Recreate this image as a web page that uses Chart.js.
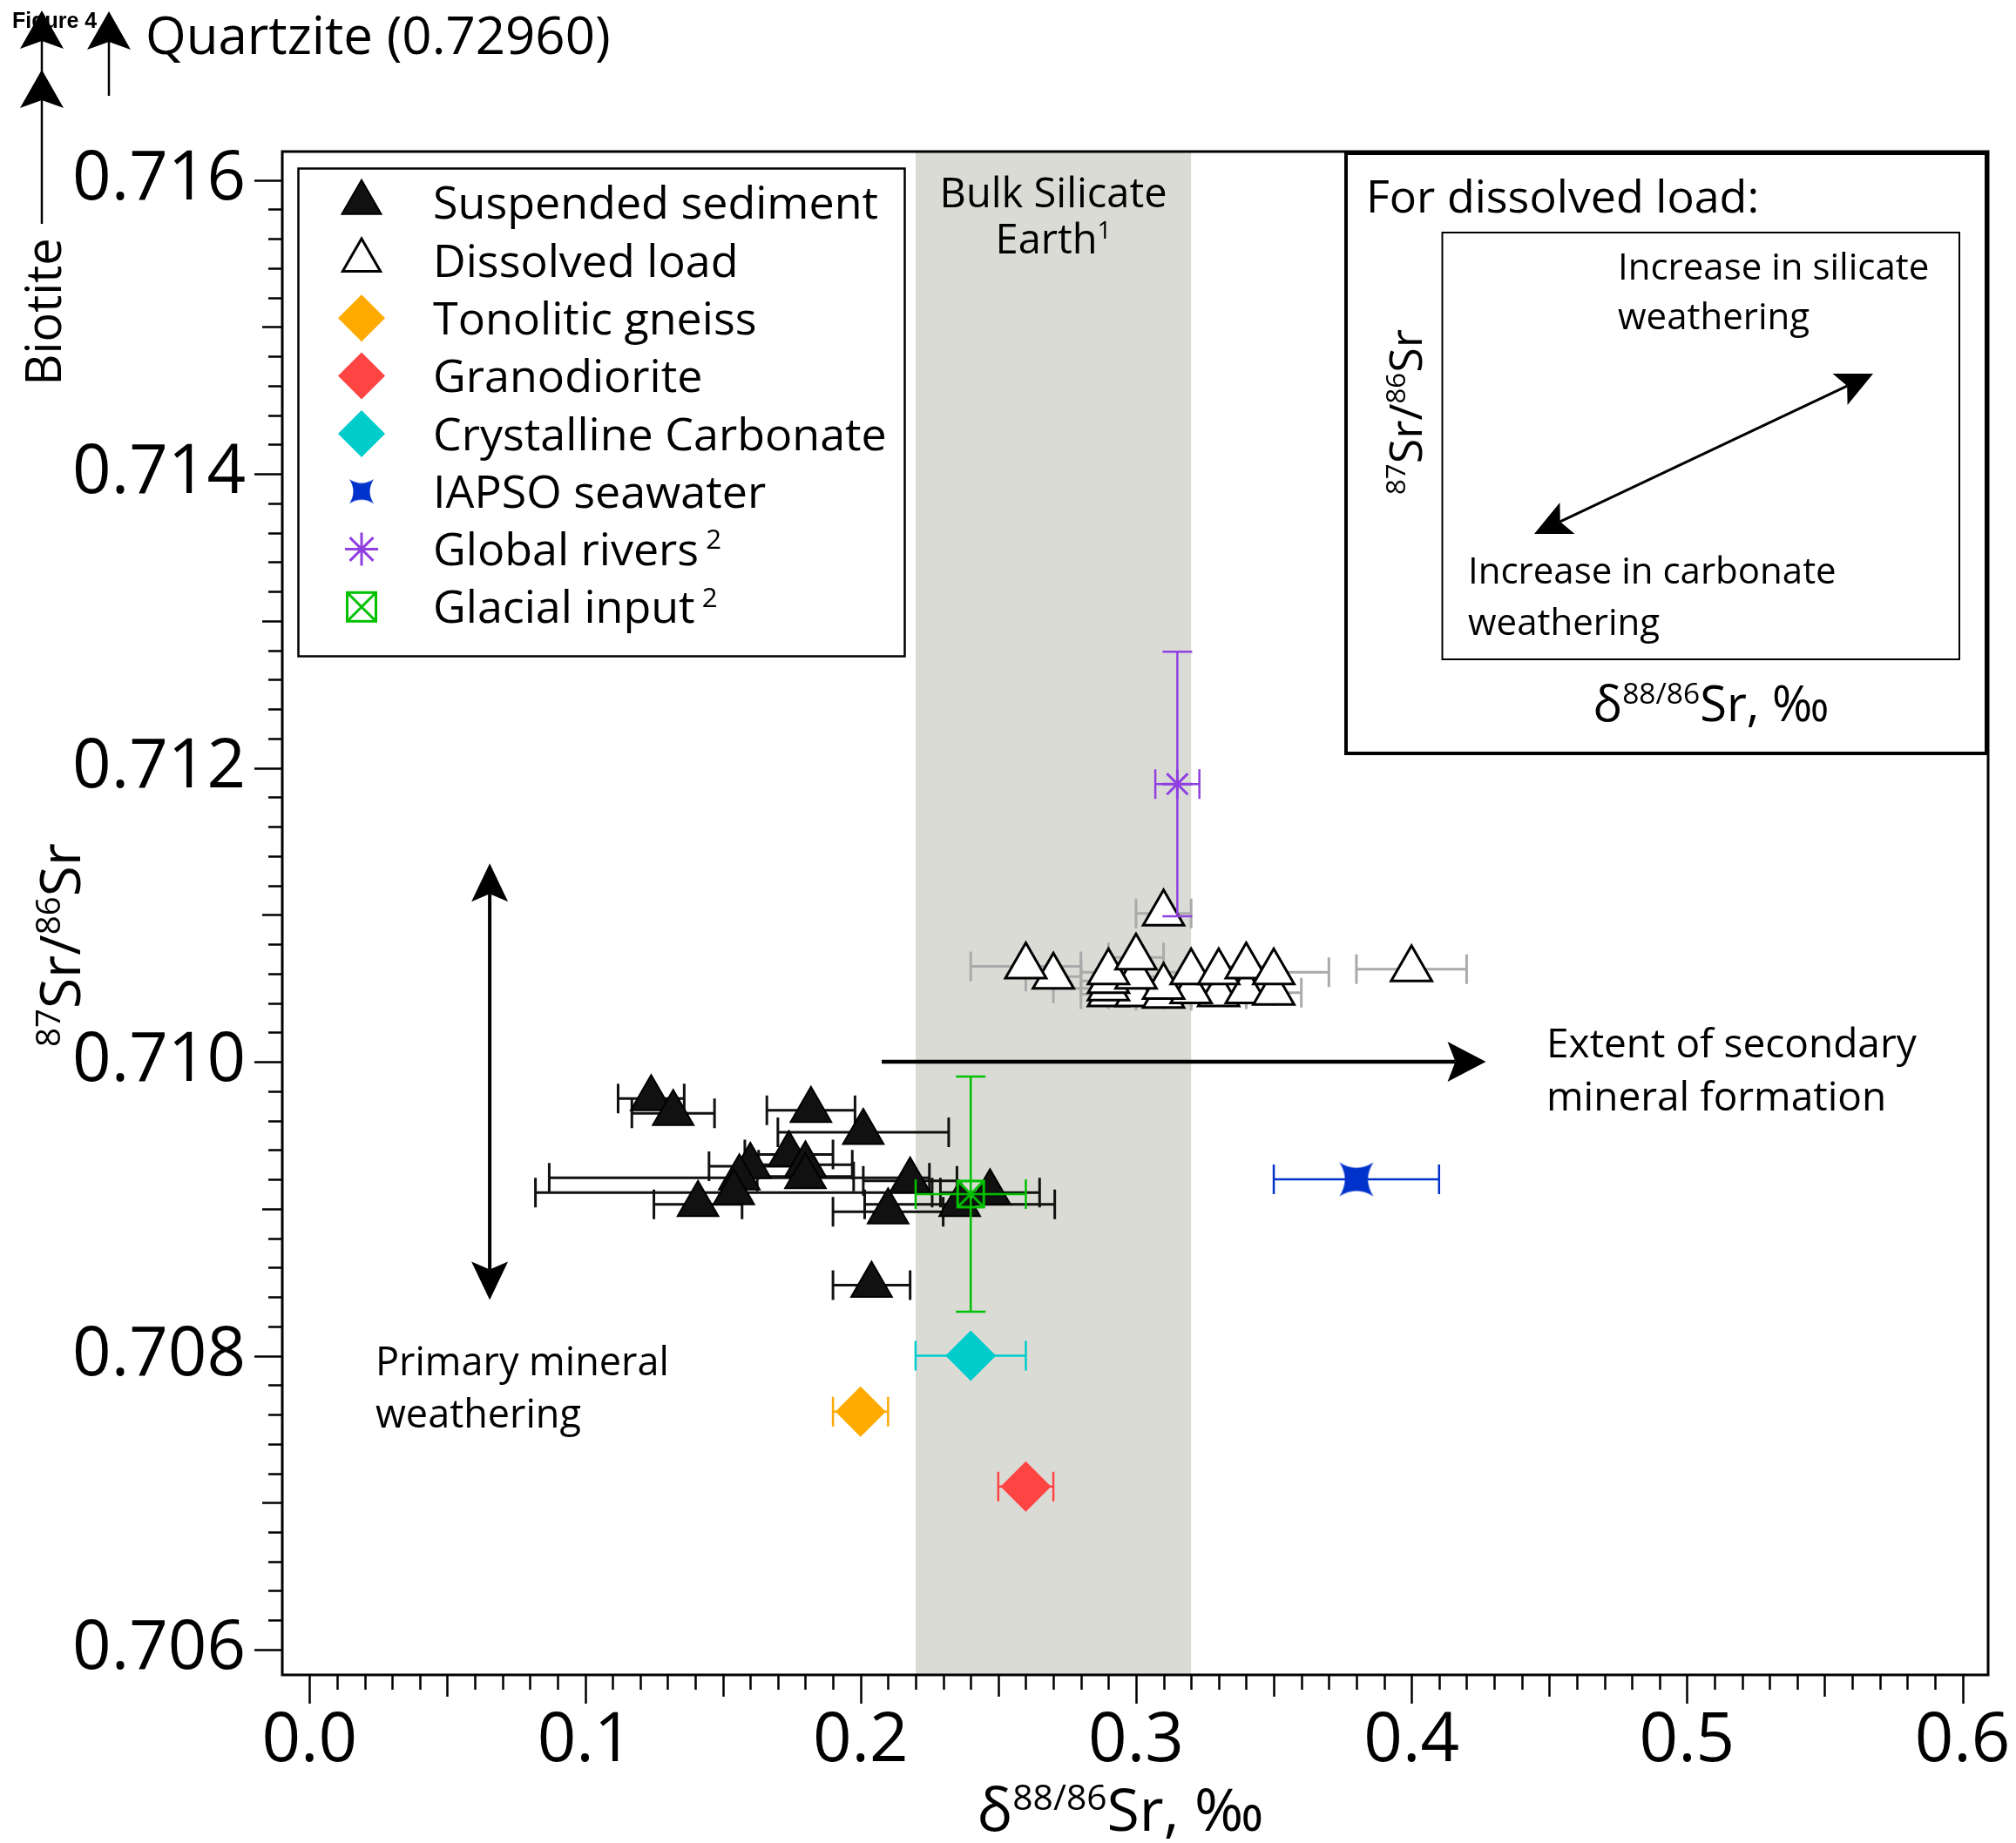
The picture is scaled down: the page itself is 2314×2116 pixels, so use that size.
<!DOCTYPE html>
<html>
<head>
<meta charset="utf-8">
<title>Sr isotopes</title>
<script src="https://cdn.jsdelivr.net/npm/chart.js@4.4.1/dist/chart.umd.min.js"></script>
<style>
  html, body { margin: 0; padding: 0; background: #fff; }
  #myChart { display: block; }
</style>
</head>
<body>
<canvas id="myChart" width="2314" height="2116"></canvas>
<script>
// values: x = d88/86Sr (permil), y = 87Sr/86Sr

// suspended sediment (filled triangles)
var suspX    = [0.124, 0.132, 0.182, 0.201, 0.174, 0.180, 0.180, 0.160, 0.156, 0.154, 0.141, 0.218, 0.210, 0.236, 0.247, 0.204];
var suspY    = [0.70975, 0.70965, 0.70967, 0.70952, 0.70937, 0.70930, 0.70922, 0.70929, 0.70921, 0.70911, 0.70903, 0.70919, 0.70898, 0.70903, 0.70911, 0.70848];
var suspXErr = [0.012, 0.015, 0.016, 0.031, 0.016, 0.017, 0.0175, 0.015, 0.069, 0.072, 0.016, 0.017, 0.020, 0.0345, 0.018, 0.014];

// dissolved load (open triangles), lower row first
var dissX    = [0.290, 0.300, 0.310, 0.330, 0.340, 0.350, 0.320, 0.290, 0.290, 0.310, 0.270, 0.300, 0.290, 0.320, 0.330, 0.260, 0.340, 0.350, 0.400, 0.300, 0.310];
var dissY    = [0.71046, 0.71046, 0.71045, 0.71046, 0.71048, 0.71047, 0.71048, 0.71050, 0.71055, 0.71051, 0.71058, 0.71058, 0.71061, 0.71061, 0.71061, 0.71065, 0.71065, 0.71061, 0.71063, 0.71071, 0.71101];
var dissXErr = [0.010, 0.010, 0.010, 0.010, 0.010, 0.010, 0.010, 0.020, 0.010, 0.010, 0.010, 0.010, 0.010, 0.010, 0.010, 0.020, 0.010, 0.020, 0.020, 0.010, 0.010];

// end-members and references
var refNames = ['Tonolitic gneiss', 'Granodiorite', 'Crystalline Carbonate', 'IAPSO seawater', 'Global rivers', 'Glacial input'];
var refX     = [0.200, 0.260, 0.240, 0.380, 0.315, 0.240];
var refY     = [0.70762, 0.70711, 0.70800, 0.70920, 0.71189, 0.70910];
var refXErr  = [0.010, 0.010, 0.020, 0.030, 0.008, 0.020];
var refYErr  = [0, 0, 0, 0, 0.0009, 0.0008];

// axes
var xTickLabels = [0.0, 0.1, 0.2, 0.3, 0.4, 0.5, 0.6];
var yTickLabels = [0.706, 0.708, 0.710, 0.712, 0.714, 0.716];
var bseBand = [0.22, 0.32];   // bulk silicate earth

var FONT = '"Open Sans", "DejaVu Sans", sans-serif';
function setFont(ctx, size, weight) {
  ctx.font = (weight ? weight + ' ' : '') + size + 'px ' + FONT;
}

function pts(xs, ys) {
  return xs.map(function (v, i) { return { x: v, y: ys[i] }; });
}

function makeStar(size, color) {
  var c = document.createElement('canvas');
  c.width = c.height = Math.ceil(size) + 2;
  var g = c.getContext('2d'), m = c.width / 2, h = size / 2, p = size * 0.32;
  g.fillStyle = color;
  g.beginPath();
  g.moveTo(m - h, m - h);
  g.quadraticCurveTo(m, m - h + p, m + h, m - h);
  g.quadraticCurveTo(m + h - p, m, m + h, m + h);
  g.quadraticCurveTo(m, m + h - p, m - h, m + h);
  g.quadraticCurveTo(m - h + p, m, m - h, m - h);
  g.fill();
  return c;
}

function makeBoxX(size, color, lw) {
  var c = document.createElement('canvas');
  c.width = c.height = Math.ceil(size + lw) + 2;
  var g = c.getContext('2d'), o = (c.width - size) / 2;
  g.strokeStyle = color;
  g.lineWidth = lw;
  g.strokeRect(o, o, size, size);
  g.beginPath();
  g.moveTo(o, o); g.lineTo(o + size, o + size);
  g.moveTo(o + size, o); g.lineTo(o, o + size);
  g.stroke();
  return c;
}

// text with superscripts: parts = [[text, isSup], ...]
function rich(ctx, parts, x, y, size, align, angle) {
  var sup = size * 0.6, w = 0;
  ctx.save();
  ctx.translate(x, y);
  if (angle) ctx.rotate(angle);
  ctx.textBaseline = 'alphabetic';
  ctx.textAlign = 'left';
  parts.forEach(function (p) { setFont(ctx, p[1] ? sup : size); w += ctx.measureText(p[0]).width; });
  var cx = align === 'center' ? -w / 2 : (align === 'right' ? -w : 0);
  parts.forEach(function (p) {
    setFont(ctx, p[1] ? sup : size);
    ctx.fillText(p[0], cx, p[1] ? -size * 0.36 : 0);
    cx += ctx.measureText(p[0]).width;
  });
  ctx.restore();
}

function head(ctx, tx, ty, ang, len, half, notch) {
  var c = Math.cos(ang), s = Math.sin(ang);
  var bx = tx - c * len, by = ty - s * len;
  ctx.beginPath();
  ctx.moveTo(tx, ty);
  ctx.lineTo(bx - s * half, by + c * half);
  ctx.lineTo(tx - c * (len - notch), ty - s * (len - notch));
  ctx.lineTo(bx + s * half, by - c * half);
  ctx.closePath();
  ctx.fill();
}

function arrow(ctx, x1, y1, x2, y2, lw, len, half, notch, both) {
  var ang = Math.atan2(y2 - y1, x2 - x1), back = len - notch;
  var c = Math.cos(ang), s = Math.sin(ang);
  ctx.lineWidth = lw;
  ctx.beginPath();
  ctx.moveTo(both ? x1 + c * back : x1, both ? y1 + s * back : y1);
  ctx.lineTo(x2 - c * back, y2 - s * back);
  ctx.stroke();
  head(ctx, x2, y2, ang, len, half, notch);
  if (both) head(ctx, x1, y1, ang + Math.PI, len, half, notch);
}

// error bars are drawn just before each dataset so markers sit on top
function errorBars(chart, args) {
  var ds = chart.data.datasets[args.index];
  if (!ds.errX && !ds.errY) return;
  var ctx = chart.ctx, xs = chart.scales.x, ys = chart.scales.y, cap = 17;
  ctx.save();
  ctx.strokeStyle = ds.errColor;
  ctx.lineWidth = ds.errWidth;
  ds.data.forEach(function (p, i) {
    var px = xs.getPixelForValue(p.x), py = ys.getPixelForValue(p.y);
    var ex = ds.errX ? ds.errX[i] : 0, ey = ds.errY ? ds.errY[i] : 0;
    ctx.beginPath();
    if (ex) {
      var x0 = xs.getPixelForValue(p.x - ex), x1 = xs.getPixelForValue(p.x + ex);
      ctx.moveTo(x0, py); ctx.lineTo(x1, py);
      ctx.moveTo(x0, py - cap); ctx.lineTo(x0, py + cap);
      ctx.moveTo(x1, py - cap); ctx.lineTo(x1, py + cap);
    }
    if (ey) {
      var y0 = ys.getPixelForValue(p.y - ey), y1 = ys.getPixelForValue(p.y + ey);
      ctx.moveTo(px, y0); ctx.lineTo(px, y1);
      ctx.moveTo(px - cap, y0); ctx.lineTo(px + cap, y0);
      ctx.moveTo(px - cap, y1); ctx.lineTo(px + cap, y1);
    }
    ctx.stroke();
  });
  ctx.restore();
}

var decor = {
  id: 'decor',
  beforeDatasetsDraw: function (chart) {
    var ctx = chart.ctx, a = chart.chartArea, xs = chart.scales.x;
    var x0 = xs.getPixelForValue(bseBand[0]), x1 = xs.getPixelForValue(bseBand[1]);
    ctx.save();
    ctx.fillStyle = '#DBDBD6';
    ctx.fillRect(x0, a.top, x1 - x0, a.bottom - a.top);
    ctx.fillStyle = '#000';
    ctx.textAlign = 'center';
    setFont(ctx, 47);
    var bc = (x0 + x1) / 2;
    ctx.fillText('Bulk Silicate', bc, 238);
    rich(ctx, [['Earth', 0], ['1', 1]], bc, 291, 47, 'center');
    ctx.restore();
  },
  beforeDatasetDraw: errorBars,
  afterDraw: function (chart) {
    var ctx = chart.ctx, a = chart.chartArea, xs = chart.scales.x, ys = chart.scales.y;
    var H = Chart.helpers, i, p, len;
    ctx.save();
    ctx.strokeStyle = '#000';
    ctx.fillStyle = '#000';

    // frame
    ctx.lineWidth = 3;
    ctx.strokeRect(a.left, a.top, a.right - a.left, a.bottom - a.top);

    // minor / major ticks, outside
    ctx.lineWidth = 2.5;
    ctx.beginPath();
    for (i = 0; i <= 60; i++) {
      p = Math.round(xs.getPixelForValue(i / 100)) + 0.5;
      len = i % 10 === 0 ? 33 : (i % 5 === 0 ? 25 : 17);
      ctx.moveTo(p, a.bottom); ctx.lineTo(p, a.bottom + len);
    }
    for (i = 0; i <= 50; i++) {
      p = Math.round(ys.getPixelForValue(0.706 + i * 0.0002)) + 0.5;
      len = i % 10 === 0 ? 32 : (i % 5 === 0 ? 23 : 16);
      ctx.moveTo(a.left - len, p); ctx.lineTo(a.left, p);
    }
    ctx.stroke();

    // axis titles
    rich(ctx, [['\u03B4', 0], ['88/86', 1], ['Sr, \u2030', 0]], 1286, 2102, 68, 'center');
    rich(ctx, [['87', 1], ['Sr/', 0], ['86', 1], ['Sr', 0]], 92, 1085, 64, 'center', -Math.PI / 2);

    // legend
    ctx.lineWidth = 2.5;
    ctx.strokeRect(342.5, 193.5, 696, 560);
    chart.data.datasets.forEach(function (ds, k) {
      var cy = 232.7 + k * 66.3;
      ctx.save();
      ctx.fillStyle = ds.pointBackgroundColor;
      ctx.strokeStyle = ds.pointBorderColor;
      ctx.lineWidth = ds.pointBorderWidth;
      H.drawPoint(ctx, { pointStyle: ds.legendStyle || ds.pointStyle, radius: ds.legendRadius, borderWidth: ds.pointBorderWidth, rotation: 0 }, 415, cy);
      ctx.restore();
      var parts = [[ds.label, 0]];
      if (ds.cite) parts.push([' ' + ds.cite, 1]);
      rich(ctx, parts, 497, cy + 18.6, 52, 'left');
    });

    // inset explaining the dissolved-load trends
    ctx.lineWidth = 4;
    ctx.strokeRect(1545, 176, a.right - 2 - 1545, 865 - 176);
    ctx.lineWidth = 2;
    ctx.strokeRect(1655.5, 267, 2249 - 1655.5, 757 - 267);
    setFont(ctx, 52);
    ctx.textAlign = 'left';
    ctx.fillText('For dissolved load:', 1568, 244);
    setFont(ctx, 42);
    ctx.fillText('Increase in silicate', 1857, 321);
    ctx.fillText('weathering', 1857, 378);
    ctx.fillText('Increase in carbonate', 1685, 670);
    ctx.fillText('weathering', 1685, 729);
    arrow(ctx, 1761, 613, 2150, 429, 3, 42, 20, 9, true);
    rich(ctx, [['\u03B4', 0], ['88/86', 1], ['Sr, \u2030', 0]], 1964, 828, 56, 'center');
    rich(ctx, [['87', 1], ['Sr/', 0], ['86', 1], ['Sr', 0]], 1632, 473, 52, 'center', -Math.PI / 2);

    // process arrows in data space
    var vx = xs.getPixelForValue(0.0654);
    arrow(ctx, vx, ys.getPixelForValue(0.70838), vx, ys.getPixelForValue(0.71135), 4, 44, 21, 9, true);
    var hy = ys.getPixelForValue(0.710);
    arrow(ctx, xs.getPixelForValue(0.2077), hy, xs.getPixelForValue(0.427), hy, 4.5, 44, 23, 9, false);
    setFont(ctx, 45);
    ctx.fillText('Primary mineral', 431, 1579);
    ctx.fillText('weathering', 431, 1639);
    setFont(ctx, 46);
    ctx.fillText('Extent of secondary', 1775, 1214);
    ctx.fillText('mineral formation', 1775, 1275);

    // off-scale end-members, top left
    ctx.font = 'bold 25px "Liberation Sans", Arial, sans-serif';
    ctx.fillText('Figure 4', 14, 32);
    setFont(ctx, 60);
    ctx.fillText('Quartzite (0.72960)', 167, 62);
    arrow(ctx, 125, 110, 125, 13, 2.5, 44, 25, 9, false);
    arrow(ctx, 48, 257, 48, 12, 2.5, 44, 25, 9, false);
    head(ctx, 48, 80, -Math.PI / 2, 44, 25, 9);
    ctx.save();
    ctx.translate(70, 358);
    ctx.rotate(-Math.PI / 2);
    setFont(ctx, 56);
    ctx.textAlign = 'center';
    ctx.fillText('Biotite', 0, 0);
    ctx.restore();

    ctx.restore();
  }
};

function build() {
  var ctx = document.getElementById('myChart').getContext('2d');
  var markerColors = ['#FFAA00', '#FF4444', '#00CCCC'];
  var datasets = [{
    label: 'Suspended sediment',
    data: pts(suspX, suspY),
    errX: suspXErr, errColor: '#111', errWidth: 3,
    pointStyle: 'triangle', pointRadius: 27, legendRadius: 26,
    pointBackgroundColor: '#111', pointBorderColor: '#000', pointBorderWidth: 2
  }, {
    label: 'Dissolved load',
    data: pts(dissX, dissY),
    errX: dissXErr, errColor: '#AAAAAA', errWidth: 3,
    pointStyle: 'triangle', pointRadius: 27, legendRadius: 25,
    pointBackgroundColor: '#FFFFFF', pointBorderColor: '#000', pointBorderWidth: 3
  }];
  for (var k = 0; k < 3; k++) {
    datasets.push({
      label: refNames[k],
      data: [{ x: refX[k], y: refY[k] }],
      errX: [refXErr[k]], errColor: markerColors[k], errWidth: 2.5,
      pointStyle: 'rectRot', pointRadius: 29, legendRadius: 27,
      pointBackgroundColor: markerColors[k], pointBorderColor: markerColors[k], pointBorderWidth: 0
    });
  }
  datasets.push({
    label: refNames[3],
    data: [{ x: refX[3], y: refY[3] }],
    errX: [refXErr[3]], errColor: '#0033CC', errWidth: 2.5,
    pointStyle: makeStar(39, '#0033CC'), legendStyle: makeStar(28, '#0033CC'),
    pointRadius: 20, legendRadius: 14,
    pointBackgroundColor: '#0033CC', pointBorderColor: '#0033CC', pointBorderWidth: 0
  });
  datasets.push({
    label: refNames[4], cite: '2',
    data: [{ x: refX[4], y: refY[4] }],
    errX: [refXErr[4]], errY: [refYErr[4]], errColor: '#9040E0', errWidth: 2.5,
    pointStyle: 'star', pointRadius: 17, legendRadius: 19,
    pointBackgroundColor: '#9040E0', pointBorderColor: '#9040E0', pointBorderWidth: 3
  });
  datasets.push({
    label: refNames[5], cite: '2',
    data: [{ x: refX[5], y: refY[5] }],
    errX: [refXErr[5]], errY: [refYErr[5]], errColor: '#00C000', errWidth: 2.5,
    pointStyle: makeBoxX(30, '#00C000', 3), legendStyle: makeBoxX(33, '#00C000', 3),
    pointRadius: 16, legendRadius: 17,
    pointBackgroundColor: '#00C000', pointBorderColor: '#00C000', pointBorderWidth: 3
  });
  // first dataset at the bottom of the stack
  datasets.forEach(function (d, i) { d.order = datasets.length - i; });

  new Chart(ctx, {
    type: 'scatter',
    data: { datasets: datasets },
    options: {
      responsive: false,
      animation: false,
      devicePixelRatio: 1,
      events: [],
      layout: { padding: { top: 174, right: 32, left: 0, bottom: 0 } },
      plugins: {
        legend: { display: false },
        tooltip: { enabled: false }
      },
      scales: {
        x: {
          type: 'linear', min: -0.0099, max: 0.6093,
          afterFit: function (s) { s.height = 193; s.paddingLeft = 0; s.paddingRight = 0; },
          afterBuildTicks: function (s) { s.ticks = xTickLabels.map(function (v) { return { value: v }; }); },
          grid: { display: false, drawTicks: true, tickLength: 30 },
          border: { display: false },
          ticks: {
            color: '#000', padding: 0, autoSkip: false, maxRotation: 0,
            font: { family: 'Open Sans', size: 78 },
            callback: function (v) { return v.toFixed(1); }
          }
        },
        y: {
          type: 'linear', min: 0.705828, max: 0.716194,
          afterFit: function (s) { s.width = 324; s.paddingTop = 0; s.paddingBottom = 0; },
          afterBuildTicks: function (s) { s.ticks = yTickLabels.map(function (v) { return { value: v }; }); },
          grid: { display: false, drawTicks: true, tickLength: 42 },
          border: { display: false },
          ticks: {
            color: '#000', padding: 0, autoSkip: false,
            font: { family: 'Open Sans', size: 78 },
            callback: function (v) { return v.toFixed(3); }
          }
        }
      }
    },
    plugins: [decor]
  });
}

Promise.all([
  document.fonts.load('52px "Open Sans"'),
  document.fonts.load('bold 25px "Liberation Sans"')
]).catch(function () {}).then(build);
</script>
</body>
</html>
